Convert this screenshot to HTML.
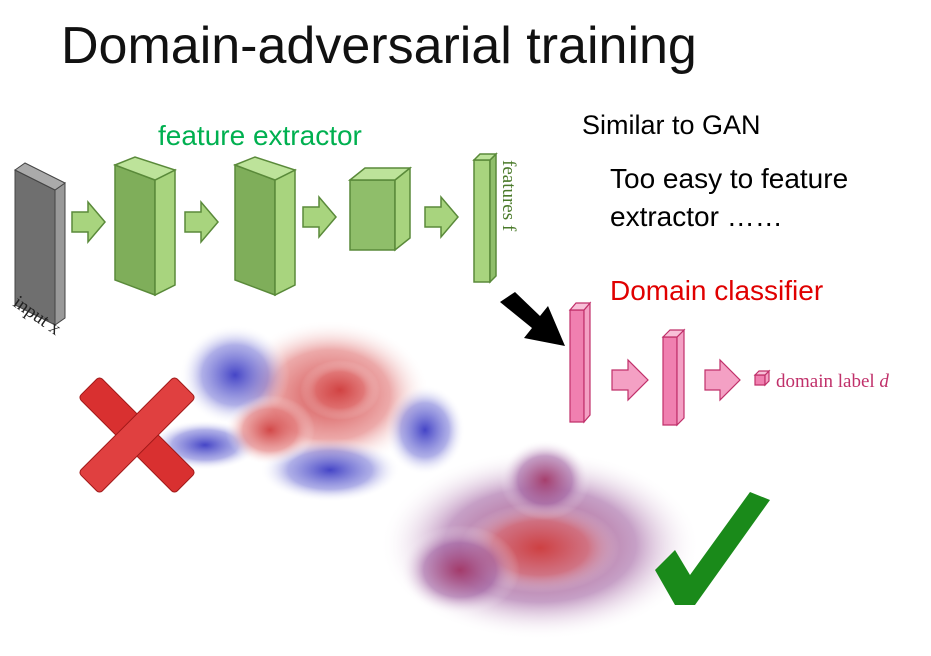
<!DOCTYPE html>
<html><head><meta charset="utf-8"><style>
body{margin:0;background:#fff;width:931px;height:656px;overflow:hidden;font-family:"Liberation Sans",sans-serif}
.t{position:absolute;white-space:nowrap}
</style></head><body>
<svg width="931" height="656" style="position:absolute;left:0;top:0">
<defs>
<radialGradient id="r1" cx="0.5" cy="0.5" r="0.5"><stop offset="0" stop-color="#d04040" stop-opacity="0.95"/><stop offset="0.6" stop-color="#e07070" stop-opacity="0.6"/><stop offset="1" stop-color="#fff" stop-opacity="0"/></radialGradient>
<radialGradient id="b1" cx="0.5" cy="0.5" r="0.5"><stop offset="0" stop-color="#3030c0" stop-opacity="0.9"/><stop offset="0.6" stop-color="#6060d0" stop-opacity="0.5"/><stop offset="1" stop-color="#fff" stop-opacity="0"/></radialGradient>
<radialGradient id="m1" cx="0.5" cy="0.5" r="0.5"><stop offset="0" stop-color="#a03060" stop-opacity="0.9"/><stop offset="0.6" stop-color="#a060a0" stop-opacity="0.6"/><stop offset="1" stop-color="#fff" stop-opacity="0"/></radialGradient>
</defs>
<polygon points="15,170 55,190 55,325 15,305" fill="#6f6f6f" stroke="#444"/>
<polygon points="55,190 65,183 65,318 55,325" fill="#999" stroke="#444"/>
<polygon points="15,170 25,163 65,183 55,190" fill="#aaa" stroke="#444"/>
<g stroke="#5a8a3a" stroke-width="1.5">
<polygon points="115,165 155,180 155,295 115,280" fill="#7fae5a"/>
<polygon points="155,180 175,170 175,285 155,295" fill="#a8d47e"/>
<polygon points="115,165 135,157 175,170 155,180" fill="#bde39a"/>
<polygon points="235,165 275,180 275,295 235,280" fill="#7fae5a"/>
<polygon points="275,180 295,170 295,285 275,295" fill="#a8d47e"/>
<polygon points="235,165 255,157 295,170 275,180" fill="#bde39a"/>
<polygon points="350,180 395,180 395,250 350,250" fill="#8fbe6a"/>
<polygon points="395,180 410,168 410,238 395,250" fill="#a8d47e"/>
<polygon points="350,180 365,168 410,168 395,180" fill="#bde39a"/>
<polygon points="474,160 490,160 490,282 474,282" fill="#a8d47e"/>
<polygon points="490,160 496,154 496,276 490,282" fill="#8fbe6a"/>
<polygon points="474,160 480,154 496,154 490,160" fill="#bde39a"/>
</g>
<g fill="#a8d47e" stroke="#5a8a3a" stroke-width="1.5">
<polygon points="72,212 88,212 88,202 105,222 88,242 88,232 72,232"/>
<polygon points="185,212 201,212 201,202 218,222 201,242 201,232 185,232"/>
<polygon points="303,207 319,207 319,197 336,217 319,237 319,227 303,227"/>
<polygon points="425,207 441,207 441,197 458,217 441,237 441,227 425,227"/>
</g>
<text x="503" y="160" transform="rotate(90 503 160)" font-family="Liberation Serif" font-size="19" fill="#4a7a2a">features f</text>
<text x="12" y="305" transform="rotate(35 12 305)" font-family="Liberation Serif" font-size="19" fill="#222">input x</text>
<polygon points="500,302 515,292 540,316 548,306 565,346 524,338 532,328" fill="#000"/>
<g stroke="#c0306a" stroke-width="1.2">
<polygon points="570,310 584,310 584,422 570,422" fill="#f080b0"/>
<polygon points="584,310 590,303 590,415 584,422" fill="#f4a0c4"/>
<polygon points="570,310 576,303 590,303 584,310" fill="#f8c0d8"/>
<polygon points="663,337 677,337 677,425 663,425" fill="#f080b0"/>
<polygon points="677,337 684,330 684,418 677,425" fill="#f4a0c4"/>
<polygon points="663,337 670,330 684,330 677,337" fill="#f8c0d8"/>
<polygon points="612,370 628,370 628,360 648,380 628,400 628,390 612,390" fill="#f4a0c4"/>
<polygon points="705,370 720,370 720,360 740,380 720,400 720,390 705,390" fill="#f4a0c4"/>
<polygon points="755,375 765,375 765,385 755,385" fill="#f080b0"/>
<polygon points="765,375 769,371 769,381 765,385" fill="#f4a0c4"/>
<polygon points="755,375 759,371 769,371 765,375" fill="#f8c0d8"/>
</g>
<text x="776" y="387" font-family="Liberation Serif" font-size="19" fill="#c0306a">domain label <tspan font-style="italic">d</tspan></text>
<ellipse cx="330" cy="395" rx="100" ry="75" fill="url(#r1)"/>
<ellipse cx="235" cy="375" rx="55" ry="50" fill="url(#b1)"/>
<ellipse cx="425" cy="430" rx="40" ry="45" fill="url(#b1)"/>
<ellipse cx="330" cy="470" rx="70" ry="32" fill="url(#b1)"/>
<ellipse cx="205" cy="445" rx="55" ry="25" fill="url(#b1)"/>
<ellipse cx="270" cy="430" rx="45" ry="35" fill="url(#r1)"/>
<ellipse cx="340" cy="390" rx="40" ry="30" fill="url(#r1)"/>
<ellipse cx="540" cy="545" rx="160" ry="95" fill="url(#m1)"/>
<ellipse cx="540" cy="548" rx="80" ry="45" fill="url(#r1)"/>
<ellipse cx="545" cy="480" rx="45" ry="40" fill="url(#m1)"/>
<ellipse cx="460" cy="570" rx="60" ry="45" fill="url(#m1)"/>
<g transform="translate(137,435) rotate(45)">
<rect x="-68" y="-15" width="136" height="30" rx="4" fill="#d93030" stroke="#a01818"/>
<rect x="-15" y="-68" width="30" height="136" rx="4" fill="#e04040" stroke="#a01818"/>
</g>
<polygon points="655,570 675,550 690,575 750,492 770,500 695,605 675,605" fill="#1a8a1a"/>
</svg>
<div class="t" style="left:61px;top:16px;font-size:52px;color:#111">Domain-adversarial training</div>
<div class="t" style="left:158px;top:120px;font-size:28px;color:#00b050">feature extractor</div>
<div class="t" style="left:582px;top:110px;font-size:27px;color:#000">Similar to GAN</div>
<div class="t" style="left:610px;top:163px;font-size:28px;color:#000">Too easy to feature</div>
<div class="t" style="left:610px;top:201px;font-size:28px;color:#000">extractor ……</div>
<div class="t" style="left:610px;top:275px;font-size:28px;color:#e00000">Domain classifier</div>
</body></html>
